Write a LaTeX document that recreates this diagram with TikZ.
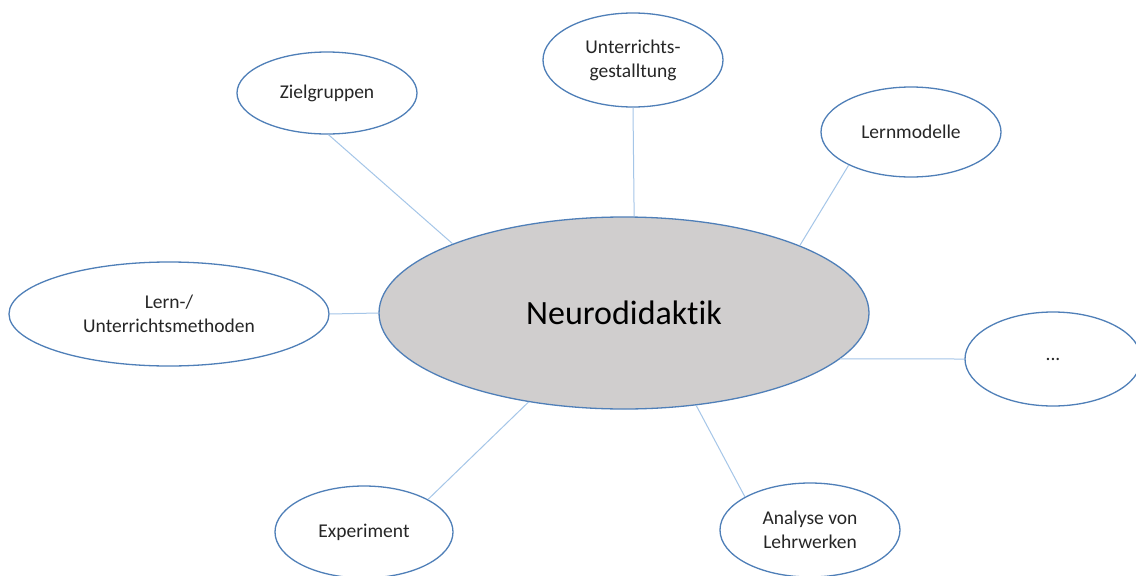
\documentclass[tikz,border=0pt]{standalone}
\usepackage{fontspec}
\setmainfont{Carlito}[Ligatures=NoCommon]
\usetikzlibrary{shapes.geometric}
\definecolor{rim}{HTML}{4F7FB8}
\definecolor{link}{HTML}{A5C6E8}
\definecolor{hub}{HTML}{D0CECE}
\tikzset{
  topic/.style={ellipse, draw=rim, line width=1.3pt, fill=white, inner sep=0pt,
    align=center, font=\fontsize{19.5}{24}\selectfont, text=black!85},
  centre/.style={topic, fill=hub, font=\fontsize{34}{40}\selectfont, text=black},
  link/.style={draw=link, line width=1pt}
}
\begin{document}
\begin{tikzpicture}[x=1pt,y=-1pt]
\useasboundingbox (0,0) rectangle (1136,576);
\clip (0,0) rectangle (1136,576);
\fill[white] (0,0) rectangle (1136,576);

% hub
\node[centre, minimum width=490pt, minimum height=192pt] (nd) at (624,313) {Neurodidaktik};

% surrounding topics
\node[topic, minimum width=180pt, minimum height=82pt] (zg) at (327,93) {Zielgruppen};
\node[topic, minimum width=180pt, minimum height=94pt] (ug) at (633,60) {Unterrichts-\\gestalltung};
\node[topic, minimum width=180pt, minimum height=90pt] (lm) at (911,132) {Lernmodelle};
\node[topic, minimum width=320pt, minimum height=104pt] (um) at (169,314) {Lern-/\\Unterrichtsmethoden};
\node[topic, minimum width=176pt, minimum height=94pt] (etc) at (1053,359) {...};
\node[topic, minimum width=178pt, minimum height=92pt] (ex) at (364,532) {Experiment};
\node[topic, minimum width=180pt, minimum height=94pt] (an) at (810,530) {Analyse von\\Lehrwerken};

% connectors
\draw[link] (zg.-88) -- (nd.158);
\draw[link] (ug.south) -- (nd.84);
\draw[link] (lm.208) -- (nd.21);
\draw[link] (um.east) -- (nd.west);
\draw[link] (etc.west) -- (nd.-12);
\draw[link] (ex.27) -- (nd.223);
\draw[link] (an.153) -- (nd.-52);
\end{tikzpicture}
\end{document}
